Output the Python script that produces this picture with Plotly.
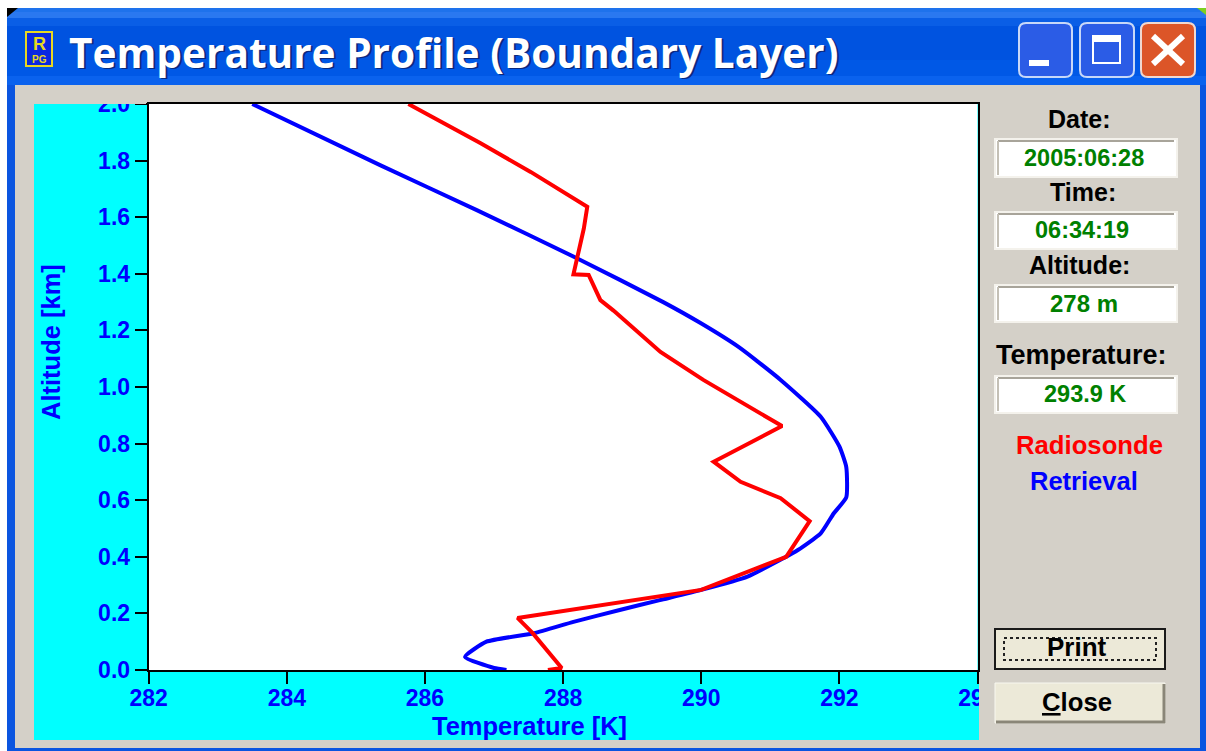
import plotly.graph_objects as go

# values
retrieval_temp = [283.5, 285.35, 286.75, 288.2, 289.45, 289.99, 290.55, 291.15, 291.73, 292.0, 292.1, 292.1,
                  291.92, 291.73, 291.4, 291.19, 290.67, 290.0, 289.4, 288.82, 288.15, 287.58, 286.89,
                  286.58, 287.0, 287.18]
retrieval_alt = [2.0, 1.784, 1.625, 1.455, 1.30, 1.226, 1.14, 1.025, 0.895, 0.79, 0.717, 0.61,
                 0.554, 0.483, 0.424, 0.395, 0.33, 0.283, 0.247, 0.212, 0.17, 0.13, 0.10,
                 0.046, 0.007, 0.0]
radiosonde_temp = [285.76, 286.8, 287.53, 288.35, 288.3, 288.15, 288.37, 288.54, 288.73, 289.12, 289.41,
                   290.03, 291.17, 290.18, 290.57, 291.15, 291.57, 291.23, 290.0, 287.34, 287.56, 287.98, 287.78]
radiosonde_alt = [2.0, 1.862, 1.76, 1.637, 1.56, 1.398, 1.396, 1.307, 1.27, 1.187, 1.124,
                  1.025, 0.862, 0.736, 0.665, 0.607, 0.526, 0.40, 0.283, 0.184, 0.13, 0.007, 0.0]
x_ticks = [282, 284, 286, 288, 290, 292, 294]
y_ticks = [0.0, 0.2, 0.4, 0.6, 0.8, 1.0, 1.2, 1.4, 1.6, 1.8, 2.0]

W, H = 1206, 751
GREY = '#D4D0C8'
BTN = '#ECE9D8'
FONT = 'Liberation Sans'


def px(x):
    return x / W


def py(y):
    return 1 - y / H


def rect(x0, y0, x1, y1, fill, line=None, width=1, layer='below'):
    return dict(type='rect', xref='paper', yref='paper', x0=px(x0), x1=px(x1), y0=py(y0), y1=py(y1),
                fillcolor=fill, line=dict(color=line or fill, width=width if line else 0), layer=layer)


def seg(x0, y0, x1, y1, color, width=1, layer='below'):
    return dict(type='line', xref='paper', yref='paper', x0=px(x0), x1=px(x1), y0=py(y0), y1=py(y1),
                line=dict(color=color, width=width), layer=layer)


def rounded(x0, y0, x1, y1, r, fill, line):
    a, b, c, d = px(x0), px(x1), py(y0), py(y1)
    rx, ry = r / W, r / H
    path = (f'M {a + rx} {c} L {b - rx} {c} Q {b} {c} {b} {c - ry} L {b} {d + ry} Q {b} {d} {b - rx} {d} '
            f'L {a + rx} {d} Q {a} {d} {a} {d + ry} L {a} {c - ry} Q {a} {c} {a + rx} {c} Z')
    return dict(type='path', xref='paper', yref='paper', path=path, fillcolor=fill,
                line=dict(color=line, width=2), layer='below')


def corner(x0, y0, x1, y1, color):
    path = f'M {px(x0)} {py(y0)} L {px(x1)} {py(y0)} L {px(x0)} {py(y1)} Z'
    return dict(type='path', xref='paper', yref='paper', path=path, fillcolor=color, line=dict(width=0), layer='below')


def label(x, y, text, color='black', size=25, anchor='center', angle=0, family=FONT):
    return dict(xref='paper', yref='paper', x=px(x), y=py(y), text=text, showarrow=False, xanchor=anchor,
                yanchor='middle', textangle=angle, font=dict(family=family, size=size, color=color))


shapes = [
    # window body
    rect(7, 8, W, 751, '#0A55E0'),
    rect(7, 8, 1206, 12, '#1E72EC'),
    rect(7, 12, 1206, 18, '#2A78F0'),
    rect(7, 18, 1206, 26, '#0A5EE6'),
    rect(7, 26, 1206, 60, '#0053E0'),
    rect(7, 60, 1206, 76, '#0058E6'),
    rect(7, 76, 1206, 85, '#0A62EE'),
    corner(7, 8, 18, 17, 'black'),
    corner(1206, 8, 1197, 15, '#7CD020'),
    rect(15, 85, 1200, 748, GREY),
    # cyan chart panel with white plot area on it
    rect(34, 104, 979, 740, '#00FFFF'),
    rect(148.7, 104, 977.5, 670, 'white'),
    # title bar icon
    rect(26, 32, 52, 66, '#0A28E0', '#E8D820', 2),
    # window buttons
    rounded(1019, 23, 1072, 77, 7, '#2B5CE6', '#C8D8F8'),
    rect(1029, 60, 1049, 66, 'white'),
    rounded(1080, 23, 1134, 77, 7, '#2B5CE6', '#C8D8F8'),
    rect(1093, 36, 1120, 63, 'rgba(0,0,0,0)', 'white', 2),
    rect(1093, 36, 1120, 42, 'white'),
    rounded(1141, 23, 1195, 77, 7, '#DC5528', '#F0D8D0'),
    seg(1153, 36, 1183, 64, 'white', 6),
    seg(1183, 36, 1153, 64, 'white', 6),
    # print button with its focus rectangle
    rect(995, 629, 1165, 669, BTN, '#1A1A1A', 2),
    dict(rect(1004, 638, 1156, 660, 'rgba(0,0,0,0)', '#222222', 2)),
    # clips the top tick label and the last x tick label as in the window
    rect(34, 86, 146, 104, GREY, layer='above'),
    rect(979, 672, 997, 742, GREY, layer='above'),
    # close button sits over the clipped tick label
    rect(995, 683, 1165, 723, BTN, '#F8F8F0', 1, layer='above'),
    seg(996, 722, 1165, 722, '#8A8678', 3, layer='above'),
    seg(1164, 684, 1164, 723, '#8A8678', 3, layer='above'),
]
shapes[22]['line']['dash'] = 'dot'

# read-out boxes
for y0, y1 in [(139, 177), (212, 249), (285, 322), (376, 413)]:
    shapes.append(rect(995, y0, 1177, y1, 'white', '#F4F2EC', 2))
    shapes.append(seg(998, y0 + 2, 1174, y0 + 2, '#A8A49A', 2))
    shapes.append(seg(998, y0 + 2, 998, y1 - 2, '#C4C0B6', 2))

annotations = [
    label(69, 54, '<b>Temperature Profile (Boundary Layer)</b>', '#0A2A80', 40.6, 'left', family='Open Sans'),
    label(67, 52, '<b>Temperature Profile (Boundary Layer)</b>', 'white', 40.6, 'left', family='Open Sans'),
    label(39, 44, '<b>R</b>', '#E8D820', 18),
    label(39, 59, '<b>PG</b>', '#E8D820', 10),
    label(1079, 119, '<b>Date:</b>'),
    label(1084, 158, '<b>2005:06:28</b>', '#008000', 23.5),
    label(1083, 192, '<b>Time:</b>'),
    label(1082, 230, '<b>06:34:19</b>', '#008000', 23.5),
    label(1079, 265, '<b>Altitude:</b>'),
    label(1084, 303, '<b>278 m</b>', '#008000', 24),
    label(1081, 355, '<b>Temperature:</b>', size=27),
    label(1085, 394, '<b>293.9 K</b>', '#008000', 23.5),
    label(1089, 445, '<b>Radiosonde</b>', '#FF0000', 25.7),
    label(1084, 481, '<b>Retrieval</b>', '#0000FF', 25.5),
    label(1077, 647, '<b>Print</b>', size=26),
    label(1077, 702, '<b><u>C</u>lose</b>', size=25.7),
    label(529, 726, '<b>Temperature [K]</b>', '#0000FF', 25.5),
    label(51, 342, '<b>Altitude [km]</b>', '#0000FF', 25.5, angle=-90),
]

fig = go.Figure()
fig.add_trace(go.Scatter(x=retrieval_temp, y=retrieval_alt, name='Retrieval', mode='lines',
                         line=dict(color='#0000FF', width=4, shape='spline', smoothing=0.5)))
fig.add_trace(go.Scatter(x=radiosonde_temp, y=radiosonde_alt, name='Radiosonde', mode='lines',
                         line=dict(color='#FF0000', width=4)))

fig.update_layout(
    width=W, height=H, autosize=False,
    margin=dict(l=0, r=0, t=0, b=0, autoexpand=False),
    paper_bgcolor='white', plot_bgcolor='white',
    showlegend=False,
    shapes=shapes, annotations=annotations,
    font=dict(family=FONT),
)
fig.update_xaxes(
    domain=[px(148.7), px(977.5)], range=[282, 294], tickvals=x_ticks, ticks='outside', ticklen=12, tickwidth=2,
    tickcolor='black', showline=True, linecolor='black', linewidth=2, mirror=True, showgrid=False, zeroline=False,
    ticklabelstandoff=-6, tickfont=dict(family=FONT, size=23, color='#0000FF', weight='bold'),
)
fig.update_yaxes(
    domain=[py(670), py(104)], range=[0, 2], tickvals=y_ticks, tickformat='.1f', ticks='outside', ticklen=12,
    tickwidth=2, tickcolor='black', showline=True, linecolor='black', linewidth=2, mirror=True, showgrid=False,
    zeroline=False, tickfont=dict(family=FONT, size=23, color='#0000FF', weight='bold'),
)

fig.write_html("out.html", post_script="document.body.style.margin='0';", config=dict(displayModeBar=False))
